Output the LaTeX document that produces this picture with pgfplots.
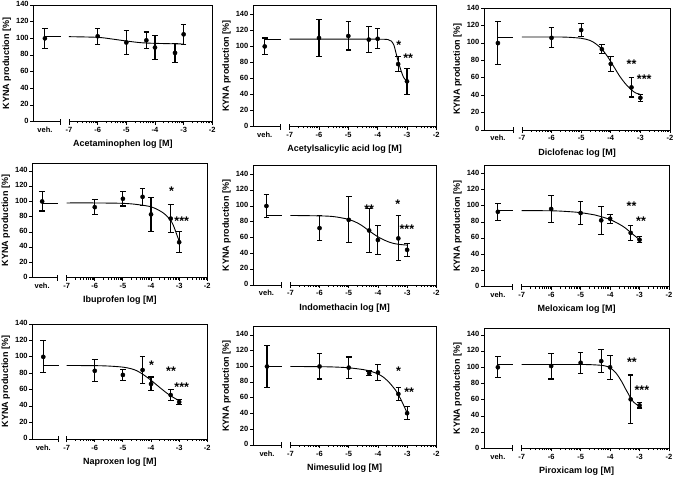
\documentclass[border=0pt]{standalone}
\usepackage{fontspec}
\setmainfont{Liberation Sans}
\usepackage{pgfplots}
\pgfplotsset{compat=1.18}

\def\minorticks{-6.699,-6.523,-6.398,-6.301,-6.222,-6.155,-6.097,-6.046,
-5.699,-5.523,-5.398,-5.301,-5.222,-5.155,-5.097,-5.046,
-4.699,-4.523,-4.398,-4.301,-4.222,-4.155,-4.097,-4.046,
-3.699,-3.523,-3.398,-3.301,-3.222,-3.155,-3.097,-3.046,
-2.699,-2.523,-2.398,-2.301,-2.222,-2.155,-2.097,-2.046}

\newcommand{\tickfont}{\bfseries\fontsize{7.5}{9}\selectfont}
\tikzset{stars/.style={font=\bfseries\fontsize{12.5}{12.5}\selectfont, inner sep=0pt, yshift=-2.5pt}}

\pgfplotsset{
  panel/.style={
    scale only axis, anchor=south west,
    xmax=-2, ymin=0, clip=false,
    axis line style={draw=none},
    tick align=outside,
    xtick pos=left, ytick pos=left,
    xtick={-7,-6,-5,-4,-3,-2},
    xticklabels={-7,-6,-5,-4,-3,-2},
    minor xtick/.expand once=\minorticks,
    ytick={0,20,...,140},
    major tick length=3pt, minor tick length=1.8pt,
    every tick/.style={black, line width=0.8pt},
    minor tick style={black, line width=0.6pt},
    tick label style={font=\tickfont, inner sep=1.5pt},
    typeset ticklabels with strut,
    label style={font=\bfseries\fontsize{9}{11}\selectfont},
    ylabel={KYNA production [\%]},
    /pgf/number format/assume math mode=true,
  },
  curve/.style={black, line width=0.9pt, no markers, smooth},
  dat/.style={black, only marks, mark=*, mark size=2.1pt,
    error bars/.cd, y dir=both, y explicit,
    error bar style={line width=1.1pt},
    error mark=-,
    error mark options={rotate=90, mark size=2.8pt, line width=1.1pt}},
}

% #1 = break position, #2 = relative position of the vehicle label
\newcommand{\brokenframe}[2]{%
  \draw[line width=0.8pt] (rel axis cs:0,0) |- (rel axis cs:1,1) -- (rel axis cs:1,0);
  \draw[line width=0.8pt] (rel axis cs:0,0) -- (axis cs:#1,0);
  \draw[line width=0.8pt] (axis cs:-7,0) -- (rel axis cs:1,0);
  \draw[line width=0.8pt] ([yshift=-3pt]axis cs:#1,0) -- ([yshift=3pt]axis cs:#1,0);
  \draw[line width=0.8pt] ([yshift=-3pt]axis cs:-7,0) -- ([yshift=3pt]axis cs:-7,0);
  \node[anchor=north, inner sep=1.5pt, font=\tickfont] at ([yshift=-3pt]rel axis cs:#2,0) {\strut veh.};
}

\begin{document}
\begin{tikzpicture}
\path[use as bounding box] (0pt,0pt) rectangle (676pt,479pt);

% ---------- Row 1 ----------
\begin{axis}[panel, at={(33.3pt,357.3pt)}, width=179pt, height=116.7pt,
  xmin=-8.245, ymax=140,
  xlabel={Acetaminophen log [M]}]
  \brokenframe{-7.29}{0.0649}
  \addplot[curve] coordinates {(-7.84,102) (-7.29,102)};
  \addplot[curve] coordinates {(-7,102) (-6,101.2) (-5.5,99.2) (-5,96.8) (-4.5,94.8) (-4,94) (-3,93.2)};
  \addplot[dat] coordinates {(-7.84,100) +- (0,12) (-6,102.5) +- (0,9.5) (-5,95) +- (0,14.5)
    (-4.301,97.6) +- (0,10) (-4,89) +- (0,14.5) (-3.301,82.5) +- (0,11.5) (-3,104.8) +- (0,12)};
\end{axis}

\begin{axis}[panel, at={(253pt,352.3pt)}, width=183.3pt, height=121.7pt,
  xmin=-8.25, ymax=151.6,
  xlabel={Acetylsalicylic acid log [M]}]
  \brokenframe{-7.31}{0.064}
  \addplot[curve] coordinates {(-7.85,109) (-7.31,109)};
  \addplot[curve] coordinates {(-7,109) (-5,109) (-4,109) (-3.65,108.6) (-3.53,106.5) (-3.44,101) (-3.37,91) (-3.28,79) (-3.19,68.5) (-3.11,61) (-3,56.5)};
  \addplot[dat] coordinates {(-7.85,100) +- (0,10.5) (-6,110.5) +- (0,22.5) (-5,113) +- (0,17.5)
    (-4.301,108.5) +- (0,16) (-4,109.5) +- (0,12.5) (-3.301,78) +- (0,9) (-3,56.5) +- (0,16)};
  \node[stars] at (axis cs:-3.28,105) {*};
  \node[stars] at (axis cs:-2.96,88) {**};
\end{axis}

\begin{axis}[panel, at={(484pt,349pt)}, width=186pt, height=121.7pt,
  xmin=-8.28, ymax=140,
  xlabel={Diclofenac log [M]}]
  \brokenframe{-7.30}{0.0748}
  \addplot[curve] coordinates {(-7.81,107) (-7.30,107)};
  \addplot[curve] coordinates {(-7,107) (-6,107) (-5.5,106.8) (-5,105.5) (-4.7,103) (-4.5,99) (-4.3,93) (-4.1,84) (-3.9,73) (-3.7,62) (-3.5,53) (-3.3,46) (-3.15,42.5) (-3,41)};
  \addplot[dat] coordinates {(-7.81,100) +- (0,25) (-6,106) +- (0,11.5) (-5,115) +- (0,7.5)
    (-4.301,93) +- (0,5) (-4,76) +- (0,9) (-3.301,49) +- (0,11) (-3,37) +- (0,4)};
  \node[stars] at (axis cs:-3.30,78) {**};
  \node[stars] at (axis cs:-2.87,61) {***};
\end{axis}

% ---------- Row 2 ----------
\begin{axis}[panel, at={(32.3pt,201.3pt)}, width=175pt, height=114.4pt,
  xmin=-8.22, ymax=150,
  xlabel={Ibuprofen log [M]}]
  \brokenframe{-7.32}{0.0563}
  \addplot[curve] coordinates {(-7.87,98) (-7.32,98)};
  \addplot[curve] coordinates {(-7,98) (-6,98) (-5,97.5) (-4.5,96) (-4,93) (-3.7,88) (-3.5,83) (-3.3,75) (-3.2,68) (-3.1,58) (-3,48)};
  \addplot[dat] coordinates {(-7.87,100) +- (0,12.5) (-6,92.5) +- (0,10) (-5,103.5) +- (0,9.5)
    (-4.301,106) +- (0,11) (-4,83) +- (0,22) (-3.301,77.5) +- (0,18.5) (-3,46.5) +- (0,14)};
  \node[stars] at (axis cs:-3.27,117) {*};
  \node[stars] at (axis cs:-2.91,78) {***};
\end{axis}

\begin{axis}[panel, at={(253pt,194pt)}, width=183.3pt, height=119.3pt,
  xmin=-8.28, ymax=151,
  xlabel={Indomethacin log [M]}]
  \brokenframe{-7.31}{0.0732}
  \addplot[curve] coordinates {(-7.82,88) (-7.31,88)};
  \addplot[curve] coordinates {(-7,88) (-6,87.5) (-5.5,86.5) (-5,83) (-4.7,78.5) (-4.5,74) (-4.3,68.5) (-4,61) (-3.7,55.5) (-3.5,53) (-3.3,51.5) (-3,50.5)};
  \addplot[dat] coordinates {(-7.82,100) +- (0,14.5) (-6,72) +- (0,15.5) (-5,82.5) +- (0,29)
    (-4.301,69) +- (0,27.5) (-4,57) +- (0,18) (-3.301,59) +- (0,28.5) (-3,44.5) +- (0,8)};
  \node[stars] at (axis cs:-4.30,99) {**};
  \node[stars] at (axis cs:-3.32,106) {*};
  \node[stars] at (axis cs:-3.01,74) {***};
\end{axis}

\begin{axis}[panel, at={(484pt,192.3pt)}, width=185pt, height=121pt,
  xmin=-8.28, ymax=149.5,
  xlabel={Meloxicam log [M]}]
  \brokenframe{-7.30}{0.0748}
  \addplot[curve] coordinates {(-7.81,94) (-7.30,94)};
  \addplot[curve] coordinates {(-7,94) (-6,93.8) (-5.5,93) (-5,91.5) (-4.5,88.5) (-4.3,86.5) (-4,83) (-3.7,77.5) (-3.5,73) (-3.3,67) (-3.15,62.5) (-3,58)};
  \addplot[dat] coordinates {(-7.81,92.5) +- (0,10.5) (-6,96) +- (0,16.5) (-5,91) +- (0,14)
    (-4.301,82) +- (0,17) (-4,84) +- (0,5.5) (-3.301,66.5) +- (0,9.5) (-3,58) +- (0,3.8)};
  \node[stars] at (axis cs:-3.27,103) {**};
  \node[stars] at (axis cs:-2.95,84) {**};
\end{axis}

% ---------- Row 3 ----------
\begin{axis}[panel, at={(32.3pt,40pt)}, width=175pt, height=115pt,
  xmin=-8.22, ymax=140,
  xlabel={Naproxen log [M]}]
  \brokenframe{-7.30}{0.0627}
  \addplot[curve] coordinates {(-7.83,89.5) (-7.30,89.5)};
  \addplot[curve] coordinates {(-7,89.5) (-6,89.3) (-5.5,88.8) (-5,87.5) (-4.7,85.5) (-4.5,83) (-4.3,79) (-4,71.5) (-3.7,63) (-3.5,57.5) (-3.3,52.5) (-3.1,48.5) (-3,47)};
  \addplot[dat] coordinates {(-7.83,100) +- (0,19.5) (-6,83) +- (0,13.5) (-5,78) +- (0,6.5)
    (-4.301,84) +- (0,16) (-4,67) +- (0,8.5) (-3.301,53.5) +- (0,7) (-3,45) +- (0,3)};
  \node[stars] at (axis cs:-3.98,93) {*};
  \node[stars] at (axis cs:-3.29,85) {**};
  \node[stars] at (axis cs:-2.91,66) {***};
\end{axis}

\begin{axis}[panel, at={(253pt,34pt)}, width=183.3pt, height=118.3pt,
  xmin=-8.28, ymax=150.6,
  xlabel={Nimesulid log [M]}]
  \brokenframe{-7.31}{0.0764}
  \addplot[curve] coordinates {(-7.80,100) (-7.31,100)};
  \addplot[curve] coordinates {(-7,100) (-6,99.7) (-5.5,99.3) (-5,98.3) (-4.5,96) (-4.3,94.5) (-4,90.5) (-3.8,86) (-3.6,79) (-3.4,70) (-3.3,64) (-3.2,57) (-3.1,49) (-3,41)};
  \addplot[dat] coordinates {(-7.80,100) +- (0,27) (-6,100) +- (0,16) (-5,98.5) +- (0,13.5)
    (-4.301,91.5) +- (0,2.7) (-4,92.3) +- (0,9.7) (-3.301,65) +- (0,8) (-3,40.5) +- (0,8.5)};
  \node[stars] at (axis cs:-3.29,97) {*};
  \node[stars] at (axis cs:-2.93,70) {**};
\end{axis}

\begin{axis}[panel, at={(484pt,30.7pt)}, width=185pt, height=120pt,
  xmin=-8.28, ymax=148.2,
  xlabel={Piroxicam log [M]}]
  \brokenframe{-7.30}{0.0748}
  \addplot[curve] coordinates {(-7.81,103.5) (-7.30,103.5)};
  \addplot[curve] coordinates {(-7,103.5) (-5,103.5) (-4.5,103) (-4.2,102) (-4,99.5) (-3.8,93) (-3.6,82) (-3.5,75) (-3.4,68.5) (-3.3,62) (-3.2,57) (-3.1,54) (-3,52.5)};
  \addplot[dat] coordinates {(-7.81,100) +- (0,13) (-6,101.6) +- (0,16) (-5,105.6) +- (0,13)
    (-4.301,107.7) +- (0,14.2) (-4,100) +- (0,15) (-3.301,60.5) +- (0,30) (-3,53) +- (0,3.2)};
  \node[stars] at (axis cs:-3.26,109) {**};
  \node[stars] at (axis cs:-2.92,75) {***};
\end{axis}
\end{tikzpicture}
\end{document}
